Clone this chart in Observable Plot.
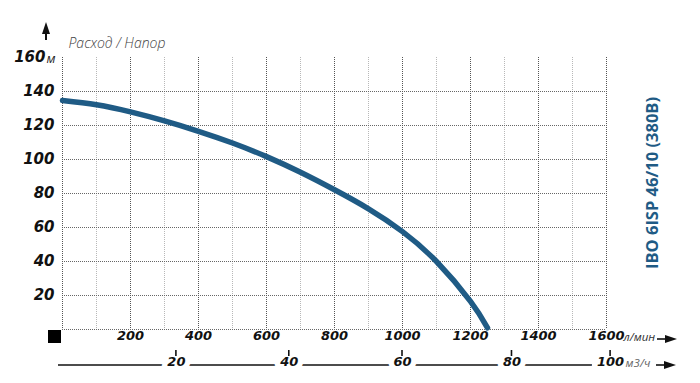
<!DOCTYPE html>
<html>
<head>
<meta charset="utf-8">
<script src="https://cdn.jsdelivr.net/npm/d3@7"></script>
<script src="https://cdn.jsdelivr.net/npm/@observablehq/plot@0.6"></script>
<style>
  html, body { margin: 0; padding: 0; background: #fff; }
  #chart svg { display: block; }
</style>
</head>
<body>
<div id="chart"></div>
<script>
// Pump curve: flow (л/мин) vs head (м)
const flowLpm = [0, 100, 200, 300, 400, 500, 600, 700, 800, 900, 1000, 1100, 1200, 1250];
const headM   = [134.7, 132.2, 128.0, 122.7, 116.6, 109.7, 101.7, 92.5, 82.2, 71.0, 57.6, 40.0, 16.5, 1];

const yTicks = [20, 40, 60, 80, 100, 120, 140];
const yTopTick = [160];
const xTicks = [200, 400, 600, 800, 1000, 1200, 1400, 1600];
const m3hLabels = [20, 40, 60, 80, 100];
const m3hPosLpm = [335, 667, 1000, 1322, 1612];
const gridMajorX = [0, 200, 400, 600, 800, 1000, 1200, 1400, 1600];
const gridMinorX = [100, 300, 500, 700, 900, 1100, 1300, 1500];
const gridY = [0, 20, 40, 60, 80, 100, 120, 140];

const titleText = "Расход / Напор";
const modelText = "IBO 6ISP 46/10 (380B)";
const unitHead = "м";
const unitFlow = "л/мин";
const unitFlow2 = "м3/ч";

const curveData = flowLpm.map((q, i) => ({q, h: headM[i]}));
const m3hData = m3hLabels.map((v, i) => ({v, pos: m3hPosLpm[i]}));

const blue = "#1f5b85";
const tickFont = "DejaVu Sans";

const chart = Plot.plot({
  width: 700,
  height: 383,
  marginLeft: 62,
  marginRight: 94,
  marginTop: 57,
  marginBottom: 54,
  x: {domain: [0, 1600], axis: null},
  y: {domain: [0, 160], axis: null},
  style: {background: "#fff", fontFamily: "Open Sans"},
  marks: [
    Plot.ruleX(gridMinorX, {x: d => d, stroke: "#b8b8b8", strokeWidth: 1, strokeDasharray: "1,1"}),
    Plot.ruleY(gridY, {y: d => d, stroke: "#666", strokeWidth: 1, strokeDasharray: "1,1"}),
    Plot.ruleX(gridMajorX, {x: d => d, stroke: "#555", strokeWidth: 1, strokeDasharray: "1,1"}),
    Plot.line(curveData, {x: "q", y: "h", curve: "natural", stroke: blue, strokeWidth: 5.5}),
    // y labels
    Plot.text(yTicks, {y: d => d, frameAnchor: "left", dx: -8, textAnchor: "end", text: d => String(d),
      fontFamily: tickFont, fontWeight: "bold", fontStyle: "italic", fontSize: 15, fill: "#111"}),
    Plot.text(yTopTick, {y: d => d, frameAnchor: "left", dx: -17, textAnchor: "end", text: d => String(d),
      fontFamily: tickFont, fontWeight: "bold", fontStyle: "italic", fontSize: 15, fill: "#111"}),
    Plot.text(yTopTick, {y: d => d, frameAnchor: "left", dx: -16, dy: 1, textAnchor: "start", text: () => unitHead,
      fontFamily: "Open Sans", fontStyle: "italic", fontSize: 13, fill: "#222"}),
    // top x labels (л/мин)
    Plot.text(xTicks, {x: d => d, frameAnchor: "bottom", dy: 10, text: d => String(d),
      fontFamily: tickFont, fontWeight: "bold", fontStyle: "italic", fontSize: 13, fill: "#111"}),
    Plot.text([1600], {x: d => d, frameAnchor: "bottom", dy: 11, dx: 17, textAnchor: "start", text: () => unitFlow,
      fontFamily: "Open Sans", fontStyle: "italic", fontSize: 11.5, fill: "#333"}),
    // bottom x labels (м3/ч)
    Plot.text(m3hData, {x: "pos", frameAnchor: "bottom", dy: 36, text: d => String(d.v),
      fontFamily: tickFont, fontWeight: "bold", fontStyle: "italic", fontSize: 13, fill: "#111",
      stroke: "#fff", strokeWidth: 11}),
    Plot.text(m3hData.slice(-1), {x: "pos", frameAnchor: "bottom", dy: 37, dx: 15, textAnchor: "start", text: () => unitFlow2,
      fontFamily: "Open Sans", fontStyle: "italic", fontSize: 11.5, fill: "#666"}),
    // title
    Plot.text([titleText], {frameAnchor: "top-left", dx: 6, dy: -19, textAnchor: "start", text: d => d,
      fontFamily: "Open Sans", fontStyle: "italic", fontWeight: 300, fontSize: 14, fill: "#444"})
  ]
});

document.getElementById("chart").appendChild(chart);

// decorations: secondary axis line, tick marks, arrows, square, rotated model label
const svg = d3.select(chart);
const xs = chart.scale("x");
const ys = chart.scale("y");
const g = svg.insert("g", "g");
const deco = svg.append("g");
g.append("line").attr("x1", 58).attr("x2", 592).attr("y1", 365).attr("y2", 365)
  .attr("stroke", "#111").attr("stroke-width", 1.6);
m3hData.forEach(d => {
  const px = xs.apply(d.pos);
  deco.append("line").attr("x1", px).attr("x2", px).attr("y1", 350).attr("y2", 356)
    .attr("stroke", "#111").attr("stroke-width", 1.6);
});
function arrowRight(x0, x1, y) {
  deco.append("line").attr("x1", x0).attr("x2", x1 - 10).attr("y1", y).attr("y2", y)
    .attr("stroke", "#111").attr("stroke-width", 1.6);
  deco.append("path").attr("d", `M${x1 - 12},${y - 4} L${x1},${y} L${x1 - 12},${y + 4} Z`).attr("fill", "#111");
}
arrowRight(657, 677, 339);
arrowRight(656, 676, 365);
deco.append("path").attr("d", "M46,22 L50,34 L42,34 Z").attr("fill", "#111");
deco.append("line").attr("x1", 46).attr("x2", 46).attr("y1", 33).attr("y2", 40)
  .attr("stroke", "#111").attr("stroke-width", 2);
deco.append("rect").attr("x", 48).attr("y", 330).attr("width", 13).attr("height", 13).attr("fill", "#000");
// model label, rotated, placed relative to the frame
const fx = xs.apply(1600) + 48;
const fy = (ys.apply(160) + ys.apply(0)) / 2 - 10;
deco.append("text").attr("transform", `translate(${fx},${fy}) rotate(-90)`)
  .attr("text-anchor", "middle").attr("dominant-baseline", "middle")
  .attr("font-family", "Open Sans").attr("font-weight", "bold").attr("font-size", 16.5)
  .attr("fill", blue).text(modelText);
</script>
</body>
</html>
